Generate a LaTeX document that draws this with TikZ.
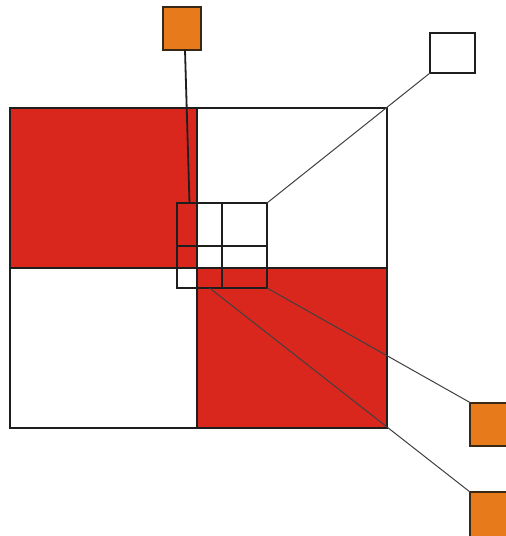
\documentclass[tikz,border=0pt]{standalone}
\definecolor{quadred}{RGB}{217,39,30}
\definecolor{tileorange}{RGB}{231,123,28}
\definecolor{tileedge}{RGB}{58,40,22}
\definecolor{edgeblack}{RGB}{30,30,30}
\begin{document}
\begin{tikzpicture}[x=0.5pt,y=-0.5pt,
  gridline/.style={draw=edgeblack,line width=1pt},
  tile/.style={draw=tileedge,line width=1pt,fill=tileorange,minimum width=19pt,minimum height=21.5pt,inner sep=0pt,outer sep=0pt},
  emptytile/.style={draw=edgeblack,line width=0.8pt,fill=white,minimum width=22.5pt,minimum height=20pt,inner sep=0pt,outer sep=0pt},
  leader/.style={draw=edgeblack!85,line width=0.5pt},
  boldleader/.style={draw=edgeblack,line width=0.9pt}]
\clip (0,0) rectangle (506,536);
\fill[white] (0,0) rectangle (506,536);

% quadrants of the large square
\fill[quadred] (9.5,107.5) rectangle (197,268);
\fill[quadred] (197,268) rectangle (387,427.5);
\draw[gridline] (9.5,107.5) rectangle (387,427.5);
\draw[gridline] (197,107.5) -- (197,427.5);
\draw[gridline] (9.5,268) -- (387,268);

% refined block around the centre
\node[draw=edgeblack,line width=1pt,minimum width=45pt,minimum height=42.5pt,inner sep=0pt,outer sep=0pt] (sbox) at (222,245.5) {};
\draw[gridline] (222,203) -- (222,288);
\draw[gridline] (177,246) -- (267,246);
\coordinate (cellnw) at (189.5,203);
\coordinate (cellsb) at (209.5,288);

% detail tiles
\node[tile] (otop) at (182,28.5) {};
\node[emptytile] (wtile) at (452.5,53) {};
\node[tile,minimum width=21pt] (oright) at (491,424) {};
\node[tile,minimum width=21pt,minimum height=24pt] (obottom) at (491,516) {};

% leaders from cells to tiles
\draw[boldleader] ([xshift=1.5pt]otop.south) -- (cellnw);
\draw[leader] (sbox.north east) -- (wtile.south west);
\draw[leader] (sbox.south east) -- (oright.north west);
\draw[leader] (cellsb) -- (obottom.north west);
\end{tikzpicture}
\end{document}
